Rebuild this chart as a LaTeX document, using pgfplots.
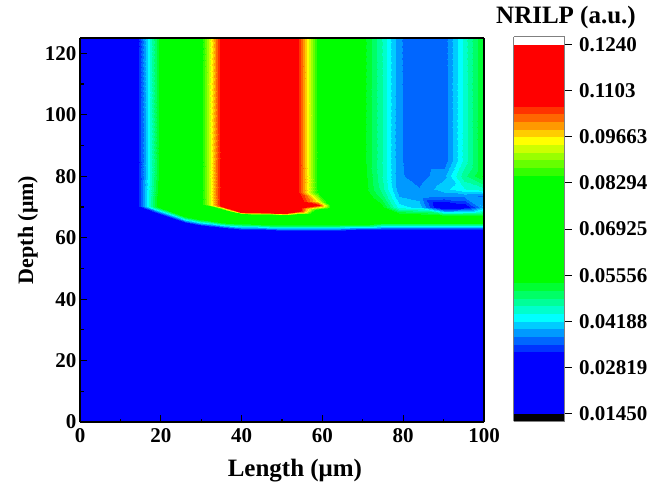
\documentclass[border=0pt]{standalone}
\usepackage{pgfplots}
\pgfplotsset{compat=1.18}
\usepackage{fontspec}
\setmainfont{Liberation Serif}

% Origin-like stepped rainbow: black below, 48 steps, white above
\pgfplotsset{
  colormap={origin}{
    rgb255=(0,0,0)
    rgb255=(0,0,255) rgb255=(0,0,255) rgb255=(0,0,255) rgb255=(0,0,255)
    rgb255=(0,0,255) rgb255=(0,0,255) rgb255=(0,0,255) rgb255=(0,0,255)
    rgb255=(0,51,255) rgb255=(0,102,255) rgb255=(0,153,255) rgb255=(0,204,255)
    rgb255=(0,255,255) rgb255=(0,255,204) rgb255=(0,255,153) rgb255=(0,255,102)
    rgb255=(0,255,51)
    rgb255=(0,255,0) rgb255=(0,255,0) rgb255=(0,255,0) rgb255=(0,255,0)
    rgb255=(0,255,0) rgb255=(0,255,0) rgb255=(0,255,0) rgb255=(0,255,0)
    rgb255=(0,255,0) rgb255=(0,255,0) rgb255=(0,255,0) rgb255=(0,255,0)
    rgb255=(0,255,0) rgb255=(0,255,0)
    rgb255=(51,255,0) rgb255=(102,255,0) rgb255=(153,255,0) rgb255=(204,255,0)
    rgb255=(255,255,0) rgb255=(255,204,0) rgb255=(255,153,0) rgb255=(255,102,0)
    rgb255=(255,51,0)
    rgb255=(255,0,0) rgb255=(255,0,0) rgb255=(255,0,0) rgb255=(255,0,0)
    rgb255=(255,0,0) rgb255=(255,0,0) rgb255=(255,0,0) rgb255=(255,0,0)
    rgb255=(255,255,255)
  },
  colormap access=piecewise constant,
}

\begin{document}
\begin{tikzpicture}
\useasboundingbox (-80pt,-61pt) rectangle (571pt,422pt);
\begin{axis}[
  name=main,
  scale only axis, width=404pt, height=384pt,
  view={0}{90},
  xmin=0, xmax=100, ymin=0, ymax=125,
  xtick={0,20,...,100}, ytick={0,20,...,120},
  minor x tick num=1, minor y tick num=1,
  tick pos=left, tick align=inside,
  major tick length=7pt, minor tick length=3.5pt,
  every tick/.style={black, line width=1.2pt},
  axis line style={black, line width=1.5pt},
  /pgf/number format/assume math mode=true,
  ticklabel style={font=\fontsize{21}{25}\selectfont\bfseries},
  xticklabel style={yshift=-3pt},
  xlabel={Length (μm)}, ylabel={Depth (μm)},
  xlabel style={font=\fontsize{25}{30}\selectfont\bfseries,
    at={(axis description cs:0.532,-0.1424)}, anchor=base},
  ylabel style={font=\fontsize{22}{26}\selectfont\bfseries,
    at={(axis description cs:-0.104,0.5)}, anchor=south, inner sep=0pt},
  colormap name=origin,
  point meta min=0.0122187, point meta max=0.1262813,
  colorbar,
  colorbar style={
    at={(parent axis.north east)}, anchor=north west,
    xshift=21pt, yshift=1.3pt,
    scale only axis, width=51pt, height=384.7pt,
    axis line style={draw=gray, line width=0.8pt},
    ytick={0.0145,0.02819,0.04188,0.05556,0.06925,0.08294,0.09663,0.1103,0.124},
    yticklabels={0.01450,0.02819,0.04188,0.05556,0.06925,0.08294,0.09663,0.1103,0.1240},
    ytick pos=right, yticklabel pos=right,
    tick align=outside, major tick length=7pt,
    every tick/.style={black, line width=1pt},
    yticklabel style={font=\fontsize{21}{25}\selectfont\bfseries, xshift=4pt},
    scaled y ticks=false,
  },
]
\addplot3[surf, shader=interp, mesh/rows=19, mesh/cols=11] table {
x y v
0 0 0.025
0 58 0.025
0 60 0.025
0 62.5 0.025
0 67 0.025
0 70 0.025
0 73.5 0.025
0 76 0.025
0 80 0.025
0 85 0.025
0 125 0.025
14 0 0.025
14 66 0.025
14 69.7 0.029
14 70.3 0.031
14 71 0.031
14 72 0.031
14 73.5 0.031
14 76 0.031
14 80 0.031
14 85 0.031
14 125 0.031
20 0 0.025
20 65 0.025
20 67.5 0.030
20 70 0.058
20 71.5 0.058
20 72.5 0.058
20 73.5 0.058
20 76 0.057
20 80 0.056
20 85 0.056
20 125 0.056
26 0 0.025
26 62.9 0.025
26 64.9 0.030
26 67.4 0.060
26 69 0.064
26 70.5 0.066
26 72 0.066
26 74 0.066
26 77 0.066
26 85 0.066
26 125 0.066
30 0 0.025
30 61.8 0.025
30 63.8 0.030
30 66.3 0.060
30 68 0.065
30 69.5 0.075
30 71 0.083
30 73 0.083
30 76 0.083
30 85 0.083
30 125 0.083
35 0 0.025
35 61 0.025
35 63 0.030
35 65.5 0.060
35 67.5 0.065
35 69 0.075
35 70.2 0.1075
35 72 0.1075
35 76 0.1075
35 85 0.1075
35 125 0.1075
40 0 0.025
40 60.6 0.025
40 62.6 0.030
40 65.1 0.060
40 67.3 0.066
40 68.4 0.112
40 70 0.118
40 72 0.118
40 76 0.118
40 85 0.118
40 125 0.118
45 0 0.025
45 60.4 0.025
45 62.4 0.030
45 64.9 0.060
45 67 0.066
45 68.2 0.113
45 70 0.121
45 72 0.1235
45 76 0.1235
45 85 0.1235
45 125 0.1235
50 0 0.025
50 60.3 0.025
50 62.3 0.030
50 64.8 0.060
50 67 0.066
50 68.1 0.112
50 70 0.120
50 72 0.120
50 76 0.120
50 85 0.120
50 125 0.120
54 0 0.025
54 60.3 0.025
54 62.3 0.030
54 64.8 0.060
54 67 0.066
54 68.6 0.110
54 70 0.112
54 72 0.110
54 75 0.1068
54 85 0.1064
54 125 0.1064
59 0 0.025
59 60.3 0.025
59 62.3 0.030
59 64.8 0.060
59 67 0.065
59 69 0.080
59 70.5 0.108
59 72 0.095
59 75 0.0840
59 85 0.0836
59 125 0.0836
64 0 0.025
64 60.3 0.025
64 62.3 0.030
64 64.8 0.060
64 67 0.065
64 69 0.066
64 70.5 0.068
64 72 0.066
64 75 0.065
64 85 0.065
64 125 0.065
70 0 0.025
70 60.4 0.025
70 62.4 0.030
70 64.9 0.060
70 67 0.063
70 69 0.062
70 70.5 0.060
70 72 0.058
70 75 0.0555
70 85 0.0545
70 125 0.0545
74.5 0 0.025
74.5 60.5 0.025
74.5 62.5 0.030
74.5 65 0.058
74.5 67 0.060
74.5 70 0.055
74.5 73.5 0.050
74.5 76 0.048
74.5 80 0.047
74.5 85 0.047
74.5 125 0.047
79 0 0.025
79 60.5 0.025
79 62.5 0.030
79 65 0.058
79 67 0.058
79 70 0.043
79 73.5 0.0395
79 76 0.038
79 80 0.0377
79 85 0.0376
79 125 0.0376
84 0 0.025
84 60.5 0.025
84 62.5 0.030
84 65 0.058
84 67 0.057
84 70 0.041
84 73.5 0.0385
84 76 0.0375
84 80 0.0362
84 85 0.0358
84 125 0.0358
90 0 0.025
90 60.5 0.025
90 62.5 0.030
90 65 0.058
90 67 0.055
90 70 0.027
90 73.5 0.038
90 76 0.041
90 80 0.039
90 85 0.0358
90 125 0.0358
95 0 0.025
95 60.5 0.025
95 62.5 0.030
95 65 0.058
95 67 0.055
95 70 0.030
95 73.5 0.038
95 76 0.044
95 80 0.048
95 85 0.045
95 125 0.045
100 0 0.025
100 60.5 0.025
100 62.5 0.030
100 65 0.058
100 67 0.055
100 70 0.040
100 73.5 0.037
100 76 0.046
100 80 0.054
100 85 0.054
100 125 0.054
};
\end{axis}
\node[font=\fontsize{25}{30}\selectfont\bfseries, anchor=base]
  at ([xshift=82pt, yshift=14.7pt]main.north east) {NRILP (a.u.)};
\end{tikzpicture}
\end{document}
